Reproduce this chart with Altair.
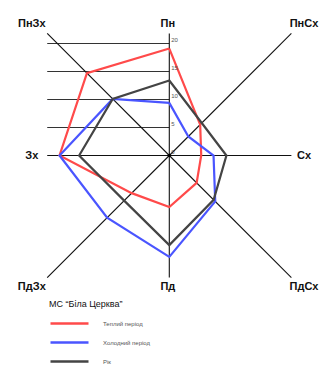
import altair as alt
import pandas as pd

directions = ["Пн", "ПнСх", "Сх", "ПдСх", "Пд", "ПдЗх", "Зх", "ПнЗх"]
warm = [19.1, 7.8, 5.7, 6.9, 9.2, 9.5, 19.6, 20.8]
cold = [9.4, 4.8, 7.9, 11.6, 18.1, 15.7, 19.6, 14.3]
year = [13.4, 8.2, 10.2, 11.2, 16.0, 11.4, 16.1, 14.3]
series = ["Теплий період", "Холодний період", "Рік"]
colors = ["#ff4a4a", "#4a55ff", "#444444"]
ticks = [0, 5, 10, 15, 20]
title_text = "МС “Біла Церква”"

W, H = 316, 363
PX = 5.6           # pixels per unit
CX, CY = 161.3, 147.5  # centre in plot pixels
xdom = [-CX / PX, (W - CX) / PX]
ydom = [-(H - CY) / PX, CY / PX]
AX = 21.8          # axis half-length (units)

rows = []
for name, vals in zip(series, [warm, cold, year]):
    for i, (d, v) in enumerate(zip(directions + [directions[0]], vals + [vals[0]])):
        rows.append({"series": name, "dir": d, "idx": i, "r": v})
df = pd.DataFrame(rows)
dirs = pd.DataFrame({"dir": directions, "idx": list(range(len(directions)))})
tk = pd.DataFrame({"t": ticks})

xs = alt.Scale(domain=xdom, nice=False, zero=False)
ys = alt.Scale(domain=ydom, nice=False, zero=False)
ang = "datum.idx * PI / 4"

axes = alt.Chart(dirs).transform_calculate(
    a=ang,
    m="max(abs(sin(" + ang + ")), abs(cos(" + ang + ")))",
    x0="0", y0="0",
    x1=f"{AX} * sin({ang}) / datum.m",
    y1=f"{AX} * cos({ang}) / datum.m",
).mark_rule(color="#111", strokeWidth=1.1).encode(
    x=alt.X("x0:Q", scale=xs, axis=None),
    y=alt.Y("y0:Q", scale=ys, axis=None),
    x2="x1:Q", y2="y1:Q",
)

labels = alt.Chart(dirs).transform_calculate(
    m="max(abs(sin(" + ang + ")), abs(cos(" + ang + ")))",
    lx=f"24.3 * sin({ang}) / datum.m - 0.25",
    ly=f"23.4 * cos({ang}) / datum.m",
).mark_text(font="Liberation Sans", fontSize=11, fontWeight="bold", color="#111",
            align="center", baseline="middle").encode(
    x=alt.X("lx:Q", scale=xs, axis=None),
    y=alt.Y("ly:Q", scale=ys, axis=None),
    text="dir:N",
)

grid = alt.Chart(tk).transform_filter("datum.t > 0").transform_calculate(
    gx0=f"-{AX}", gx1="0"
).mark_rule(color="#333", strokeWidth=1).encode(
    x=alt.X("gx0:Q", scale=xs, axis=None),
    x2="gx1:Q",
    y=alt.Y("t:Q", scale=ys, axis=None),
)

ticklab = alt.Chart(tk).transform_calculate(tx="0.35").mark_text(
    font="Liberation Sans", fontSize=6, color="#555", align="left", baseline="bottom", dy=-1
).encode(
    x=alt.X("tx:Q", scale=xs, axis=None),
    y=alt.Y("t:Q", scale=ys, axis=None),
    text="t:N",
)

center = alt.Chart(tk).transform_filter("datum.t == 0").mark_point(
    filled=True, color="#000", size=12, opacity=1
).encode(
    x=alt.X("t:Q", scale=xs, axis=None),
    y=alt.Y("t:Q", scale=ys, axis=None),
)

lines = alt.Chart(df).transform_calculate(
    px="datum.r * sin(datum.idx * PI / 4)",
    py="datum.r * cos(datum.idx * PI / 4)",
).mark_line(strokeWidth=2.2).encode(
    x=alt.X("px:Q", scale=xs, axis=None),
    y=alt.Y("py:Q", scale=ys, axis=None),
    order="idx:Q",
    color=alt.Color(
        "series:N",
        scale=alt.Scale(domain=series, range=colors),
        legend=alt.Legend(
            title=title_text, orient="none", legendX=41, legendY=292,
            titleFont="Liberation Sans", titleFontSize=9, titleFontWeight="normal",
            titleColor="#111", titlePadding=5, titleLimit=300,
            labelFont="Liberation Sans", labelFontSize=6, labelColor="#555",
            labelOffset=13, symbolType="stroke", symbolSize=1444,
            symbolStrokeWidth=2.5, clipHeight=19, rowPadding=0, padding=0,
        ),
    ),
)

chart = alt.layer(grid, axes, lines, ticklab, center, labels).properties(
    width=W, height=H, autosize=alt.AutoSizeParams(type="none"), padding=0
).configure_view(stroke=None)

chart.save("out.html", embed_options={"renderer": "svg", "actions": False})
